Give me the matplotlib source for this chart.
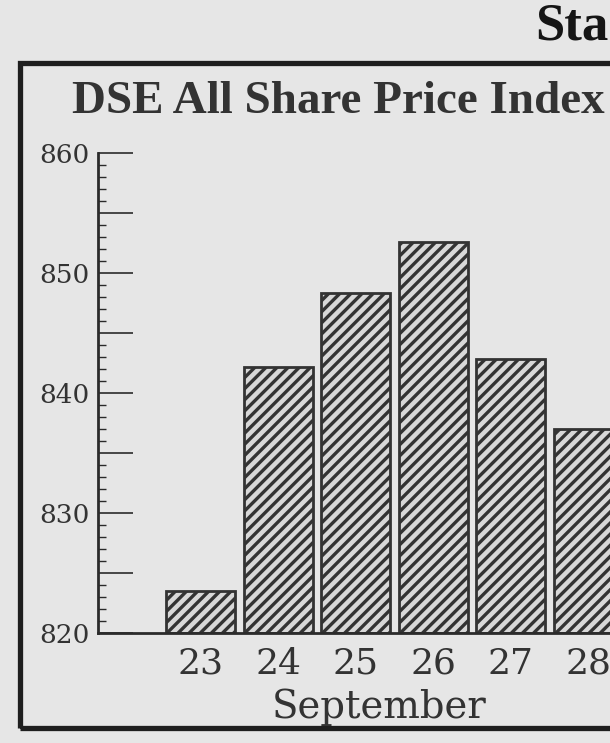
import matplotlib
matplotlib.use("Agg")
import matplotlib.pyplot as plt
from matplotlib.ticker import MultipleLocator, FuncFormatter
from matplotlib.patches import Rectangle

# ---- data ----
days = ["23", "24", "25", "26", "27", "28"]
index_values = [823.5, 842.2, 848.3, 852.6, 842.8, 837.0]
y_ticks_labelled = [820, 830, 840, 850, 860]
title_text = "Sta"
subtitle_text = "DSE All Share Price Index"
xlabel_text = "September"

W, H = 610, 743
BG = "#e6e6e6"
INK = "#2b2b2b"

plt.rcParams["hatch.linewidth"] = 2.4
fig = plt.figure(figsize=(W / 100, H / 100), dpi=100, facecolor=BG)

def px(x0, y0, x1, y1):
    return [x0 / W, 1 - y1 / H, (x1 - x0) / W, (y1 - y0) / H]

# axes: x-axis line at y=633, 860 at y=153, y-axis at x=98
ax = fig.add_axes(px(98, 153, 98 + 537, 633))
ax.set_facecolor(BG)
xs = list(range(len(days)))
ax.bar(xs, [v - 820 for v in index_values], bottom=820, width=0.89,
       color="#d8d8d8", edgecolor="#333333", linewidth=2.0, hatch="///")
ax.set_xlim(-1.32, 5.6)
ax.set_ylim(820, 860)
for s in ["top", "right"]:
    ax.spines[s].set_visible(False)
for s in ["left", "bottom"]:
    ax.spines[s].set_color(INK)
    ax.spines[s].set_linewidth(2.0)

ax.yaxis.set_major_locator(MultipleLocator(5))
ax.yaxis.set_minor_locator(MultipleLocator(1))
ax.yaxis.set_major_formatter(FuncFormatter(
    lambda v, p: f"{int(round(v))}" if int(round(v)) in y_ticks_labelled else ""))
ax.tick_params(axis="y", which="major", direction="in", length=25, width=1.2,
               color=INK, pad=6, labelsize=19, labelcolor="#333333")
ax.tick_params(axis="y", which="minor", direction="in", length=6, width=1.0,
               color=INK)
for lab in ax.get_yticklabels():
    lab.set_family("DejaVu Serif")

ax.set_xticks(xs)
ax.set_xticklabels(days, family="DejaVu Serif", fontsize=26, color="#333333")
ax.tick_params(axis="x", length=0, pad=10)

# texts
renderer = fig.canvas.get_renderer()

def fit_text(x, y, s, width_px, **kw):
    t = fig.text(x / W, 1 - y / H, s, **kw)
    bb = t.get_window_extent(renderer)
    t.set_fontsize(t.get_fontsize() * width_px / bb.width)
    return t

fit_text(72, 113, subtitle_text, 533, family="Liberation Serif",
         fontweight="bold", fontsize=28, color="#333333", va="baseline", ha="left")
fit_text(272, 718, xlabel_text, 215, family="DejaVu Serif",
         fontsize=27, color="#333333", va="baseline", ha="left")
fig.text(535 / W, 1 - 40 / H, title_text, family="Liberation Serif",
         fontweight="bold", fontsize=38, color="#151515", va="baseline", ha="left")

# outer frame (right side runs past the crop)
frame = Rectangle((20 / W, 1 - 728 / H), 1.2, (728 - 63) / H,
                  transform=fig.transFigure, fill=False, edgecolor="#1e1e1e",
                  linewidth=3.8, clip_on=False)
fig.add_artist(frame)

fig.savefig("out.png", dpi=100, facecolor=BG)
